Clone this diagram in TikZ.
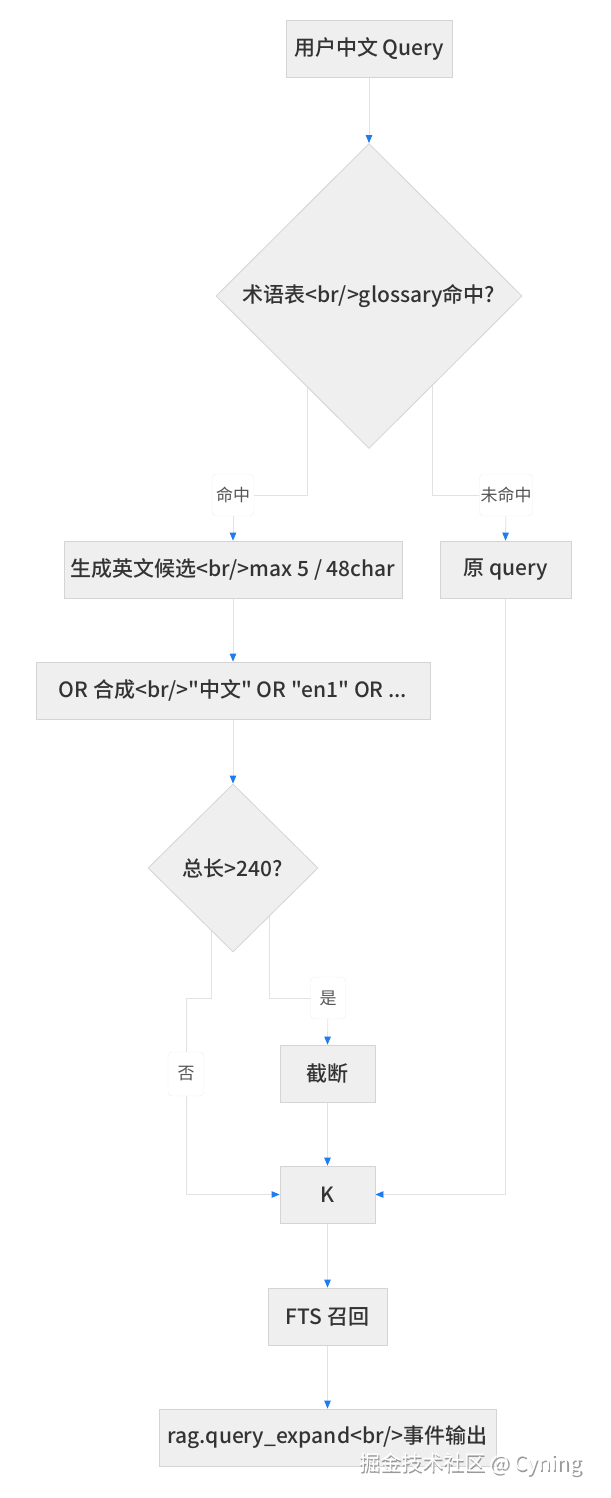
\documentclass[tikz,border=0pt]{standalone}
\usepackage{fontspec}
\setmainfont{Noto Sans CJK SC}[BoldFont={Noto Sans CJK SC Medium},Ligatures=TeXOff]
\usetikzlibrary{shapes.geometric,arrows.meta,backgrounds}
\definecolor{boxfill}{HTML}{EFEFEF}
\definecolor{boxline}{HTML}{D4D4D4}
\definecolor{edgeline}{HTML}{E2E2E2}
\definecolor{tipblue}{HTML}{1E7CF0}
\definecolor{txt}{HTML}{333333}
\definecolor{labtxt}{HTML}{555555}
\tikzset{
  proc/.style={draw=boxline, fill=boxfill, line width=0.8pt, text=txt, font=\fontsize{21}{24}\selectfont\bfseries, inner sep=0pt, minimum height=57pt},
  dia/.style={draw=boxline, fill=boxfill, line width=0.8pt, shape=diamond, inner sep=0pt},
  diatext/.style={text=txt, font=\fontsize{21}{24}\selectfont\bfseries},
  elabel/.style={draw=edgeline!60, fill=white, rounded corners=4pt, text=labtxt, font=\fontsize{17}{19}\selectfont, inner sep=0pt, minimum height=42pt},
  conn/.style={draw=edgeline, line width=0.8pt},
  arr/.style={conn, -{Triangle[length=8pt,width=6.5pt,color=tipblue]}},
}
\begin{document}
\begin{tikzpicture}[x=1pt,y=-1pt]
\useasboundingbox (0,0) rectangle (610,1498);
% nodes
\node[proc, minimum width=166pt] (q) at (369,49) {用户中文 Query};
\node[dia, minimum width=306pt, minimum height=305pt] (d1) at (369,296) {};
\node[diatext] (d1t) at (d1.center) {术语表<br/>glossary命中?};
\node[elabel, minimum width=42pt] (l1) at (233,495) {命中};
\node[elabel, minimum width=53pt] (l2) at (506,495) {未命中};
\node[proc, minimum width=338pt] (gen) at (233,569.5) {生成英文候选<br/>max 5 / 48char};
\node[proc, minimum width=131pt] (orig) at (505.5,569.5) {原 query};
\node[proc, minimum width=394pt] (orn) at (233,690.5) {OR 合成<br/>"中文" OR "en1" OR ...};
\node[dia, minimum width=170pt, minimum height=168pt] (d2) at (233,868) {};
\node[diatext] (d2t) at (d2.center) {总长>240?};
\node[elabel, minimum width=35pt] (l3) at (328,998) {是};
\node[elabel, minimum width=36pt, minimum height=44pt] (l4) at (186,1074) {否};
\node[proc, minimum width=95pt] (cut) at (327.5,1073.5) {截断};
\node[proc, minimum width=95pt] (k) at (327.5,1194.5) {K};
\node[proc, minimum width=119pt] (fts) at (327.5,1316.5) {FTS 召回};
\node[proc, minimum width=337pt] (rag) at (327.5,1437.5) {rag.query\_expand<br/>事件输出};
% watermark
\node[text=gray!80, font=\fontsize{21}{24}\selectfont, anchor=west] (wm0) at (356.8,1465.8) {掘金技术社区 @ Cyning};
\node[text=white, font=\fontsize{21}{24}\selectfont, anchor=west] (wm) at (355.5,1464.5) {掘金技术社区 @ Cyning};
% connectors
\begin{scope}[on background layer]
\draw[arr] (q) -- (d1);
\draw[conn] ([xshift=-62pt]d1.center) |- (l1.center);
\draw[arr] (l1.center) -- (gen.north);
\draw[conn] ([xshift=63pt]d1.center) |- (l2.center);
\draw[arr] (l2.center) -- (orig.north);
\draw[arr] (gen) -- (orn);
\draw[arr] (orn) -- (d2);
\draw[conn] ([xshift=36pt]d2.center) |- (l3.center);
\draw[arr] (l3.center) -- (cut.north);
\coordinate (c4) at (186,998);
\draw[conn] ([xshift=-22pt]d2.center) |- (c4) -- (l4.center);
\draw[arr] (l4.center) |- (k.west);
\draw[arr] (cut) -- (k);
\draw[arr] (orig.south) |- (k.east);
\draw[arr] (k) -- (fts);
\draw[arr] (fts) -- (rag);
\end{scope}
\end{tikzpicture}
\end{document}
